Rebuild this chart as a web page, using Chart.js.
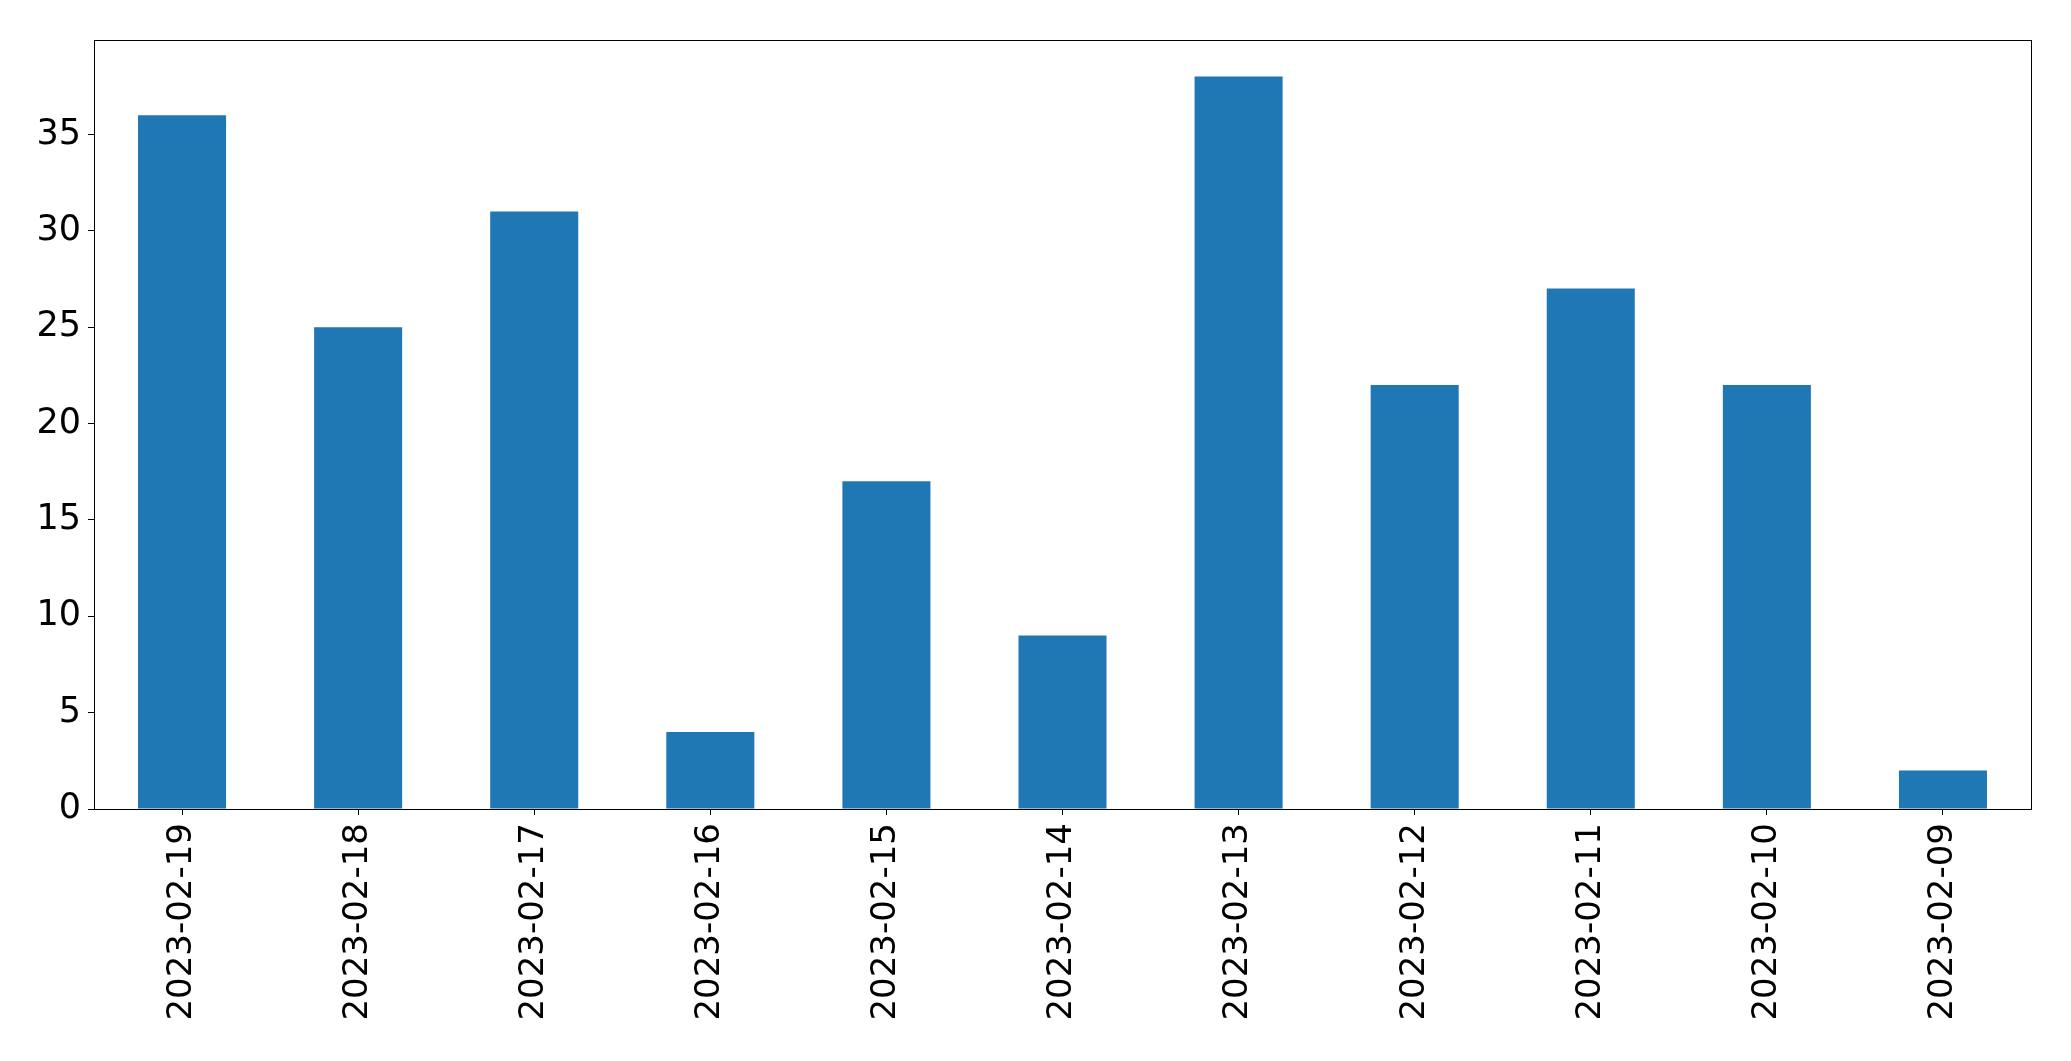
<!DOCTYPE html>
<html>
<head>
<meta charset="utf-8">
<script src="https://cdn.jsdelivr.net/npm/chart.js@4/dist/chart.umd.min.js"></script>
<style>
  html, body { margin: 0; padding: 0; background: #fff; }
</style>
</head>
<body>
<canvas id="myChart" width="2071" height="1061"></canvas>
<script>
const dates = ['2023-02-19', '2023-02-18', '2023-02-17', '2023-02-16', '2023-02-15', '2023-02-14',
               '2023-02-13', '2023-02-12', '2023-02-11', '2023-02-10', '2023-02-09'];
const counts = [36, 25, 31, 4, 17, 9, 38, 22, 27, 22, 2];
const yTicks = [0, 5, 10, 15, 20, 25, 30, 35];

// draw the box round the plot area like matplotlib does
const frame = {
    id: 'frame',
    afterDraw(chart) {
        const a = chart.chartArea;
        const ctx = chart.ctx;
        const l = Math.round(a.left) + 0.5, t = Math.round(a.top) + 0.5;
        const r = Math.round(a.right) + 0.5, b = Math.round(a.bottom) + 0.5;
        ctx.save();
        ctx.strokeStyle = '#000';
        ctx.lineWidth = 1;
        ctx.strokeRect(l, t, r - l, b - t);
        ctx.restore();
    }
};

function initializeChart() {
    const ctx = document.getElementById('myChart').getContext('2d');
    new Chart(ctx, {
        type: 'bar',
        data: {
            labels: dates,
            datasets: [{
                data: counts,
                backgroundColor: '#1f77b4',
                borderWidth: 0,
                categoryPercentage: 1.0,
                barPercentage: 0.5
            }]
        },
        options: {
            responsive: false,
            animation: false,
            layout: { padding: { top: 40, right: 40, left: 0, bottom: 0 } },
            plugins: {
                legend: { display: false },
                tooltip: { enabled: false }
            },
            scales: {
                x: {
                    grid: { display: true, drawOnChartArea: false, drawTicks: true, tickLength: 6, color: '#000', offset: false },
                    border: { display: false },
                    ticks: {
                        color: '#000',
                        font: { family: 'DejaVu Sans', size: 34 },
                        minRotation: 90,
                        maxRotation: 90,
                        padding: 8,
                        autoSkip: false
                    },
                    afterFit(scale) { scale.height = 252; }
                },
                y: {
                    min: 0,
                    max: 39.9,
                    grid: { display: true, drawOnChartArea: false, drawTicks: true, tickLength: 6, color: '#000' },
                    border: { display: false },
                    afterBuildTicks(scale) { scale.ticks = yTicks.map(v => ({ value: v })); },
                    ticks: {
                        color: '#000',
                        font: { family: 'DejaVu Sans', size: 35 },
                        padding: 7
                    },
                    afterFit(scale) { scale.width = 94; }
                }
            }
        },
        plugins: [frame]
    });
}

document.addEventListener('DOMContentLoaded', function () {
    initializeChart();
});
</script>
</body>
</html>
